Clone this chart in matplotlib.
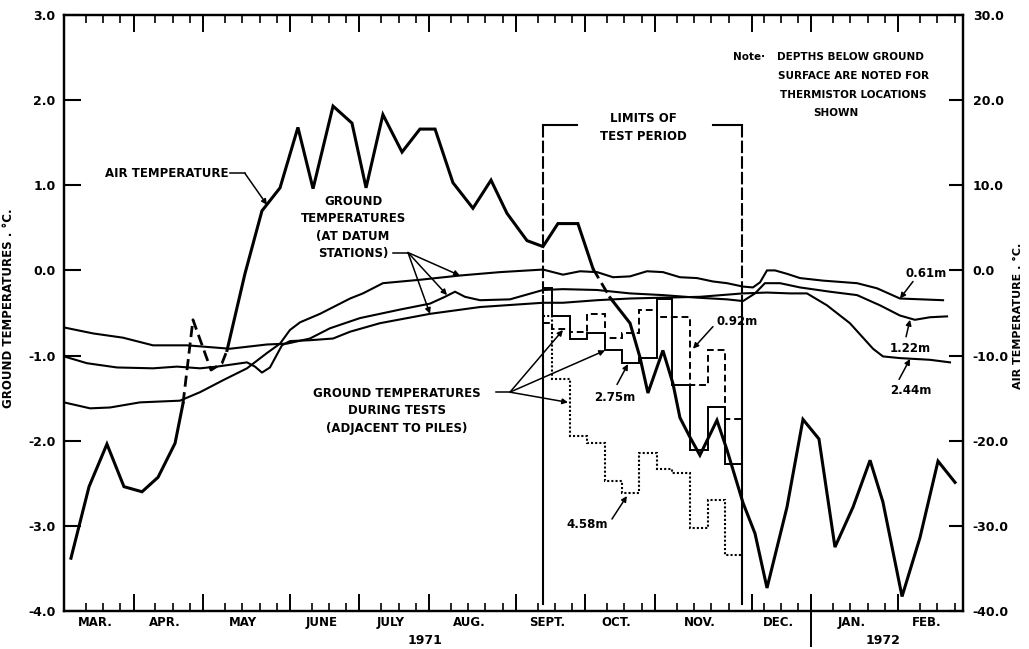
import matplotlib
matplotlib.use("Agg")
import matplotlib.pyplot as plt
import matplotlib.transforms as mtransforms

plt.rcParams['font.family'] = ['DejaVu Sans']
plt.rcParams['font.weight'] = 'bold'

# ---------------------------------------------------------------
# Time axis: weeks counted from the start of March 1971
# ---------------------------------------------------------------
month_edges = [0, 4, 8, 13, 17, 21, 26, 30, 34, 39.6, 43, 48, 51.73]
month_labels = ["MAR.", "APR.", "MAY", "JUNE", "JULY", "AUG.", "SEPT.",
                "OCT.", "NOV.", "DEC.", "JAN.", "FEB."]
year_labels = ["1971", "1972"]
year_split = 43.0

# Mean air temperature (right axis, deg C)
air_week = [0.40, 1.44, 2.47, 3.45, 4.49, 5.41, 6.39, 6.85, 7.42, 8.46, 9.09, 9.38,
            10.41, 11.39, 12.43, 13.46, 14.33, 15.48, 16.57, 17.38, 18.35, 19.45,
            20.48, 21.35, 22.38, 23.53, 24.57, 25.49, 26.64, 27.56, 28.42, 29.57,
            30.44, 31.42, 32.57, 33.14, 33.60, 34.46, 35.04, 35.44, 36.02, 36.59,
            37.57, 38.15, 39.07, 39.76, 40.45, 41.60, 42.52, 43.44, 44.36, 45.40,
            46.38, 47.12, 48.22, 49.25, 50.29, 51.27]
air_temp = [-33.8, -25.4, -20.4, -25.4, -26.0, -24.3, -20.3, -15.6, -5.8, -11.7, -10.9, -9.4,
            -0.4, 7.0, 9.7, 16.8, 9.6, 19.3, 17.3, 9.7, 18.3, 13.9,
            16.6, 16.6, 10.3, 7.3, 10.6, 6.7, 3.5, 2.8, 5.5, 5.5,
            0.2, -3.2, -6.2, -10.2, -14.4, -9.4, -13.3, -17.3, -19.6, -21.7,
            -17.6, -21.1, -27.3, -30.9, -37.3, -27.8, -17.5, -19.8, -32.5, -27.8,
            -22.3, -27.2, -38.3, -31.4, -22.4, -24.9]

# Ground temperatures at datum stations (left axis, deg C)
d061_week = [0.00, 1.50, 2.65, 4.37, 6.67, 7.83, 9.15, 10.53, 11.68, 12.43, 13.00, 13.58,
             14.73, 16.46, 17.20, 18.35, 20.48, 22.78, 25.09, 27.56, 28.71, 29.69,
             30.67, 31.59, 32.57, 33.54, 34.46, 35.44, 36.42, 37.34, 38.15, 39.07,
             39.64, 40.05, 40.45, 40.91, 41.60, 42.35, 43.67, 45.63, 46.78, 48.10, 50.58]
d061_temp = [-1.55, -1.62, -1.61, -1.55, -1.53, -1.43, -1.29, -1.15, -0.97, -0.86, -0.70, -0.61,
             -0.51, -0.33, -0.27, -0.15, -0.11, -0.06, -0.02, 0.01, -0.05, -0.01,
             -0.02, -0.08, -0.07, -0.01, -0.02, -0.08, -0.09, -0.13, -0.15, -0.19,
             -0.20, -0.14, 0.00, 0.00, -0.04, -0.09, -0.12, -0.15, -0.21, -0.33, -0.35]

d122_week = [0.00, 1.67, 3.39, 5.12, 7.08, 9.55, 11.68, 12.83, 14.15, 15.30, 17.03, 19.33,
             21.06, 21.92, 22.50, 23.07, 23.94, 25.66, 27.56, 28.71, 30.67, 32.57,
             34.46, 36.42, 38.15, 39.07, 39.76, 40.33, 41.20, 42.35, 44.07, 45.63,
             46.95, 48.10, 48.96, 49.83, 50.81]
d122_temp = [-0.67, -0.74, -0.79, -0.88, -0.88, -0.92, -0.87, -0.86, -0.80, -0.68, -0.56, -0.46,
             -0.39, -0.31, -0.25, -0.31, -0.35, -0.34, -0.23, -0.22, -0.23, -0.27,
             -0.29, -0.32, -0.34, -0.36, -0.27, -0.15, -0.15, -0.20, -0.25, -0.29,
             -0.41, -0.53, -0.58, -0.55, -0.54]

d244_week = [0.00, 1.32, 3.05, 5.12, 6.50, 7.83, 8.80, 10.53, 10.99, 11.39, 11.85, 12.54,
             13.00, 14.15, 15.48, 16.46, 18.18, 21.06, 23.94, 27.56, 28.71, 30.67,
             32.57, 34.46, 36.59, 39.07, 40.45, 41.77, 42.75, 43.90, 45.22, 46.55,
             47.12, 48.10, 49.83, 50.98]
d244_temp = [-1.01, -1.09, -1.14, -1.15, -1.13, -1.15, -1.13, -1.08, -1.13, -1.20, -1.14, -0.88,
             -0.83, -0.82, -0.80, -0.72, -0.62, -0.51, -0.43, -0.38, -0.38, -0.35,
             -0.33, -0.32, -0.31, -0.27, -0.26, -0.27, -0.27, -0.41, -0.62, -0.92,
             -1.01, -1.03, -1.05, -1.08]

# Weekly ground temperatures next to the test piles (left axis, deg C)
test_edges = [27.56, 28.08, 29.1, 30.1, 31.1, 32.1, 33.1, 34.1, 35.0, 36.0, 37.05, 38.05, 39.0]
t092 = [-0.62, -0.69, -0.72, -0.51, -0.79, -0.74, -0.47, -0.55, -0.55, -1.35, -0.94, -1.74]
t275 = [-0.21, -0.53, -0.80, -0.73, -0.94, -1.09, -1.03, -0.33, -1.35, -2.11, -1.61, -2.27]
t458 = [-0.53, -1.27, -1.94, -2.03, -2.47, -2.61, -2.14, -2.33, -2.38, -3.03, -2.70, -3.34]

test_start, test_end = 27.56, 39.0

left_ticks = [-4, -3, -2, -1, 0, 1, 2, 3]
left_ticklabels = ["-4.0", "-3.0", "-2.0", "-1.0", "0.0", "1.0", "2.0", "3.0"]
right_ticks = [-40, -30, -20, -10, 0, 10, 20, 30]
right_ticklabels = ["-40.0", "-30.0", "-20.0", "-10.0", "0.0", "10.0", "20.0", "30.0"]

# ---------------------------------------------------------------
fig = plt.figure(figsize=(10.29, 6.49), dpi=100)
ax = fig.add_axes([0.0622, 0.0586, 0.8737, 0.9183])
ax2 = ax.twinx()

ax.set_xlim(month_edges[0], month_edges[-1])
ax.set_ylim(-4, 3)
ax2.set_ylim(-40, 30)

for a in (ax, ax2):
    for s in a.spines.values():
        s.set_linewidth(1.6)

# axis ticks
ax.set_yticks(left_ticks)
ax.set_yticklabels(left_ticklabels, fontsize=9, fontweight='bold')
ax.tick_params(axis='y', direction='in', length=12, width=1.5, pad=6, right=False)
ax2.set_yticks(right_ticks)
ax2.set_yticklabels(right_ticklabels, fontsize=9, fontweight='bold')
ax2.tick_params(axis='y', direction='in', length=10, width=1.5, pad=7)

majors = month_edges[1:-1]
minors = [w + 0.25 for w in range(0, 52)
          if all(abs(w + 0.25 - m) > 0.45 for m in majors) and 0.5 < w + 0.25 < 51.5]
ax.set_xticks(majors)
ax.set_xticks(minors, minor=True)
ax.tick_params(axis='x', which='major', direction='in', length=12, width=1.4,
               top=True, labelbottom=False)
ax.tick_params(axis='x', which='minor', direction='in', length=6, width=1.2,
               top=True, labelbottom=False)

xt = mtransforms.blended_transform_factory(ax.transData, ax.transAxes)
for i, lab in enumerate(month_labels):
    c = 0.5 * (month_edges[i] + month_edges[i + 1]) - 0.2
    ax.text(c, -0.02, lab, transform=xt, ha='center', va='center', fontsize=8.5)
ax.text(20.77, -0.05, year_labels[0], transform=xt, ha='center', va='center', fontsize=9)
ax.text(47.12, -0.05, year_labels[1], transform=xt, ha='center', va='center', fontsize=9)
ax.plot([year_split, year_split], [0.024, -0.058], transform=xt, color='k',
        lw=1.4, clip_on=False)

ax.set_ylabel("GROUND TEMPERATURES . °C.", fontsize=8.5, fontweight='bold')
ax.yaxis.set_label_coords(-0.054, 0.508)
ax2.set_ylabel("AIR TEMPERATURE . °C.", fontsize=8, fontweight='bold', rotation=90)
ax2.yaxis.set_label_coords(1.056, 0.495)

# ---------------------------------------------------------------
# datum station curves
for w, t in ((d061_week, d061_temp), (d122_week, d122_temp), (d244_week, d244_temp)):
    ax.plot(w, t, color='k', lw=1.5, solid_joinstyle='round')

# test period step curves
ax.stairs(t275, test_edges, baseline=None, color='k', lw=1.4)
ax.stairs(t092, test_edges, baseline=None, color='k', lw=1.4, linestyle=(0, (3.5, 2)))
ax.stairs(t458, test_edges, baseline=None, color='k', lw=1.5, linestyle=(0, (1, 1)))

# air temperature, broken where it crosses the ground curves
kw = dict(color='k', lw=2.2, solid_joinstyle='miter')
ax2.plot(air_week[:8], air_temp[:8], **kw)
ax2.plot(air_week[7:12], air_temp[7:12], color='k', lw=2.0, linestyle=(0, (4, 2)))
ax2.plot(air_week[11:33], air_temp[11:33], **kw)
ax2.plot(air_week[32:34], air_temp[32:34], color='k', lw=2.0, linestyle=(0, (4, 2)))
ax2.plot(air_week[33:], air_temp[33:], **kw)

# limits of the test period
for x0, xh in ((test_start, 29.5), (test_end, 37.34)):
    ax.plot([x0, x0], [1.71, -0.3], color='k', lw=1.5, linestyle=(0, (6, 1.5)))
    ax.plot([x0, x0], [-0.3, -3.92], color='k', lw=1.5)
    ax.plot([x0, xh], [1.71, 1.71], color='k', lw=1.5)
ax.text(33.31, 1.785, "LIMITS OF", ha='center', va='center', fontsize=8.5)
ax.text(33.31, 1.574, "TEST PERIOD", ha='center', va='center', fontsize=8.5)

# ---------------------------------------------------------------
arrow = dict(arrowstyle='-|>', color='k', lw=1.1, mutation_scale=8,
             shrinkA=0, shrinkB=0)


def pointer(start, end):
    ax.annotate('', xy=end, xytext=start, arrowprops=arrow)


ax.text(9.44, 1.14, "AIR TEMPERATURE", ha='right', va='center', fontsize=8.5)
ax.plot([9.55, 10.41], [1.14, 1.14], color='k', lw=1.1)
pointer((10.41, 1.14), (11.68, 0.77))

ax.text(16.63, 0.505, "GROUND\nTEMPERATURES\n(AT DATUM\nSTATIONS)", ha='center',
        va='center', fontsize=8.5, linespacing=1.45, multialignment='center')
ax.plot([18.95, 19.79], [0.21, 0.21], color='k', lw=1.1)
for tgt in ((22.78, -0.06), (22.04, -0.29), (21.06, -0.51)):
    pointer((19.79, 0.21), tgt)

ax.text(19.16, -1.65, "GROUND TEMPERATURES\nDURING TESTS\n(ADJACENT TO PILES)",
        ha='center', va='center', fontsize=8.5, linespacing=1.45, multialignment='center')
ax.plot([24.85, 25.66], [-1.43, -1.43], color='k', lw=1.1)
for tgt in ((28.71, -0.70), (31.13, -0.94), (29.0, -1.55)):
    pointer((25.66, -1.43), tgt)

ax.text(49.6, -0.035, "0.61m", ha='center', va='center', fontsize=8.5)
pointer((48.85, -0.13), (48.1, -0.33))
ax.text(48.68, -0.916, "1.22m", ha='center', va='center', fontsize=8.5)
pointer((48.45, -0.78), (48.68, -0.58))
ax.text(48.73, -1.41, "2.44m", ha='center', va='center', fontsize=8.5)
pointer((48.05, -1.28), (48.68, -1.04))
ax.text(38.72, -0.60, "0.92m", ha='center', va='center', fontsize=8.5)
pointer((37.34, -0.66), (36.19, -0.92))
ax.text(31.7, -1.49, "2.75m", ha='center', va='center', fontsize=8.5)
pointer((31.82, -1.34), (32.45, -1.10))
ax.text(30.09, -2.98, "4.58m", ha='center', va='center', fontsize=8.5)
pointer((31.53, -2.92), (32.39, -2.65))

ax.text(38.49, 2.51, "Note·", ha='left', va='center', fontsize=7.5)
ax.text(41.02, 2.51, "DEPTHS BELOW GROUND", ha='left', va='center', fontsize=7.5)
ax.text(41.08, 2.28, "SURFACE ARE NOTED FOR", ha='left', va='center', fontsize=7.5)
ax.text(41.2, 2.055, "THERMISTOR LOCATIONS", ha='left', va='center', fontsize=7.5)
ax.text(44.42, 1.844, "SHOWN", ha='center', va='center', fontsize=7.5)

fig.savefig("out.png", dpi=100, facecolor='white')
